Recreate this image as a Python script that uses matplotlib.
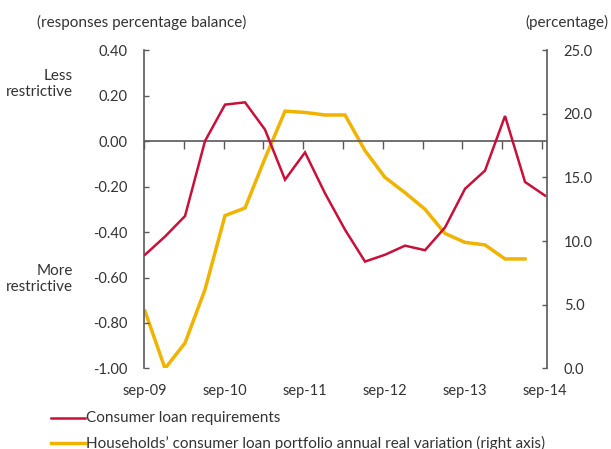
import numpy as np
import matplotlib
matplotlib.use("Agg")
import matplotlib.pyplot as plt

# Quarterly observations, sep-09 .. sep-14
quarters = ["sep-09", "dec-09", "mar-10", "jun-10", "sep-10", "dec-10", "mar-11",
            "jun-11", "sep-11", "dec-11", "mar-12", "jun-12", "sep-12", "dec-12",
            "mar-13", "jun-13", "sep-13", "dec-13", "mar-14", "jun-14", "sep-14"]

# Consumer loan requirements (responses percentage balance, left axis)
loan_requirements = [-0.50, -0.42, -0.33, 0.00, 0.16, 0.17, 0.05, -0.17, -0.05,
                     -0.23, -0.39, -0.53, -0.50, -0.46, -0.48, -0.38, -0.21,
                     -0.13, 0.11, -0.18, -0.24]

# Households' consumer loan portfolio annual real variation (%, right axis)
portfolio_variation = [4.5, 0.0, 2.0, 6.2, 12.0, 12.6, 16.5, 20.2, 20.1, 19.9,
                       19.9, 17.1, 15.0, 13.8, 12.5, 10.6, 9.9, 9.7, 8.6, 8.6]

left_ticks = [0.40, 0.20, 0.00, -0.20, -0.40, -0.60, -0.80, -1.00]
right_ticks = [25.0, 20.0, 15.0, 10.0, 5.0, 0.0]
year_labels = ["sep-09", "sep-10", "sep-11", "sep-12", "sep-13", "sep-14"]

RED = "#C8103A"
GOLD = "#F0B400"
TEXT = "#333333"
AXIS = "#595959"

plt.rcParams["font.family"] = ["Lato", "DejaVu Sans"]
plt.rcParams["font.size"] = 10.5

fig = plt.figure(figsize=(6.11, 4.49), dpi=100)
ax = fig.add_axes([0.2357, 0.1793, 0.6596, 0.7093])
ax2 = ax.twinx()

x_red = np.arange(len(loan_requirements))
x_gold = np.arange(len(portfolio_variation))

ax.plot(x_red, loan_requirements, color=RED, lw=1.8, solid_joinstyle="miter", zorder=3)
ax2.plot(x_gold, portfolio_variation, color=GOLD, lw=2.5, solid_joinstyle="miter", zorder=2)
ax.set_zorder(ax2.get_zorder() + 1)
ax.patch.set_visible(False)

ax.set_xlim(-0.05, 20.1)
ax.set_ylim(-1.0, 0.40)
ax2.set_ylim(0.0, 25.0)

# Left axis
ax.set_yticks(left_ticks)
ax.set_yticklabels([f"{v:.2f}" for v in left_ticks], color=TEXT)
ax.tick_params(axis="y", direction="in", length=3.5, width=1, color=AXIS, pad=12)
ax.spines["left"].set_color(AXIS)
ax.spines["left"].set_linewidth(1.2)

# Right axis
ax2.set_yticks(right_ticks)
ax2.set_yticklabels([f"{v:.1f}" for v in right_ticks], color=TEXT)
ax2.tick_params(axis="y", direction="in", length=3.5, width=1, color=AXIS, pad=12)
ax2.spines["right"].set_color(AXIS)
ax2.spines["right"].set_linewidth(1.2)

for a in (ax, ax2):
    a.spines["top"].set_visible(False)
    a.spines["bottom"].set_visible(False)
ax2.spines["left"].set_visible(False)
ax.spines["right"].set_visible(False)

# Year labels along the bottom
year_pos = np.arange(0, len(quarters), 4)
ax.set_xticks(year_pos)
ax.set_xticklabels(year_labels, color=TEXT)
ax.tick_params(axis="x", length=0, pad=11)
ax2.tick_params(axis="x", length=0)

# Zero line acting as the category axis, with half-year tick marks
ax.axhline(0, color=AXIS, lw=1.2, zorder=1)
zero_axis = ax.secondary_xaxis(1.0 / 1.4)
zero_axis.spines["bottom"].set_visible(False)
zero_axis.spines["top"].set_visible(False)
zero_axis.set_xticks(np.linspace(-0.05, 19.85, 11))
zero_axis.tick_params(axis="x", direction="in", length=6, width=1, color=AXIS,
                      labelbottom=False, labeltop=False)

# Titles and annotations
fig.text(37 / 611, 1 - 22 / 449, "(responses percentage balance)", color=TEXT,
         ha="left", va="center", fontsize=11)
fig.text(609 / 611, 1 - 22 / 449, "(percentage)", color=TEXT,
         ha="right", va="center", fontsize=11)
fig.text(73 / 611, 1 - 84 / 449, "Less\nrestrictive", color=TEXT,
         ha="right", va="center", fontsize=11, linespacing=1.25)
fig.text(73 / 611, 1 - 279 / 449, "More\nrestrictive", color=TEXT,
         ha="right", va="center", fontsize=11, linespacing=1.25)

# Legend
legend_items = [("Consumer loan requirements", RED, 1.8, 418),
                ("Households\u2019 consumer loan portfolio annual real variation (right axis)",
                 GOLD, 2.5, 443)]
for label, color, lw, ypix in legend_items:
    yf = 1 - ypix / 449
    fig.add_artist(plt.Line2D([51 / 611, 85 / 611], [yf, yf], color=color, lw=lw,
                              transform=fig.transFigure))
    fig.text(86 / 611, yf, label, color=TEXT, ha="left", va="center", fontsize=11)

fig.savefig("out.png", dpi=100)
